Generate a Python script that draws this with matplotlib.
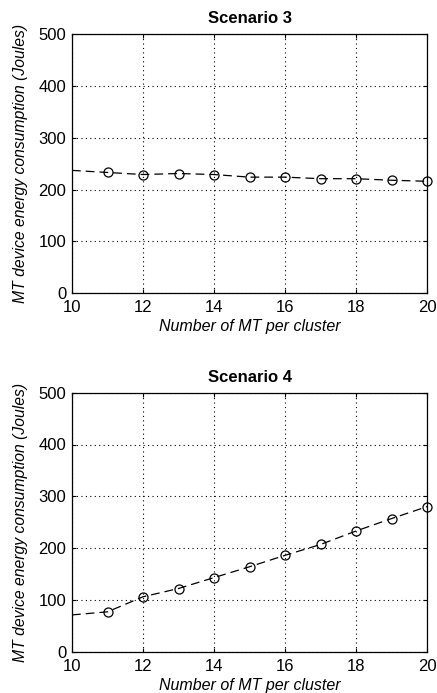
import matplotlib
matplotlib.use("Agg")
import matplotlib.pyplot as plt

# --- Datos ---
n_mt = [10, 11, 12, 13, 14, 15, 16, 17, 18, 19, 20]
scenario3 = [237, 233, 229, 231, 229, 224, 224, 221, 221, 218, 216]
scenario4 = [71, 77, 106, 122, 143, 164, 186, 207, 233, 257, 280]
titles = ["Scenario 3", "Scenario 4"]

plt.rcParams["font.family"] = ["Liberation Sans", "DejaVu Sans"]

fig = plt.figure(figsize=(4.37, 6.93), dpi=100)
positions = [
    [72 / 437, 1 - 293.3 / 693, 355 / 437, 259.3 / 693],
    [72 / 437, 1 - 651.7 / 693, 355 / 437, 259.0 / 693],
]

for pos, title, values in zip(positions, titles, [scenario3, scenario4]):
    ax = fig.add_axes(pos)
    # linea discontinua desde 10, marcadores desde 11
    ax.plot(n_mt, values, color="black", linestyle=(0, (7, 4)), linewidth=0.9,
            clip_on=False)
    ax.plot(n_mt[1:], values[1:], linestyle="none", marker="o", markersize=6.5,
            markerfacecolor="none", markeredgecolor="black", markeredgewidth=0.9,
            clip_on=False)
    ax.set_xlim(10, 20)
    ax.set_ylim(0, 500)
    ax.set_xticks(range(10, 21, 2))
    ax.set_yticks(range(0, 501, 100))
    ax.grid(True, color="black", linestyle=(0, (1, 3)), linewidth=0.8)
    ax.tick_params(direction="in", length=3, labelsize=12, top=True, right=True)
    ax.tick_params(axis="x", pad=5)
    ax.tick_params(axis="y", pad=4)
    for s in ax.spines.values():
        s.set_linewidth(0.9)
    ax.set_title(title, fontsize=12, fontweight="bold", pad=8)
    ax.set_xlabel("Number of MT per cluster", fontsize=11.5, style="italic")
    ax.set_ylabel("MT device energy consumption (Joules)", fontsize=11.3,
                  style="italic")
    ax.xaxis.set_label_coords(0.5, -0.10)
    ax.yaxis.set_label_coords(-0.124, 0.5)

fig.savefig("out.png", dpi=100)
